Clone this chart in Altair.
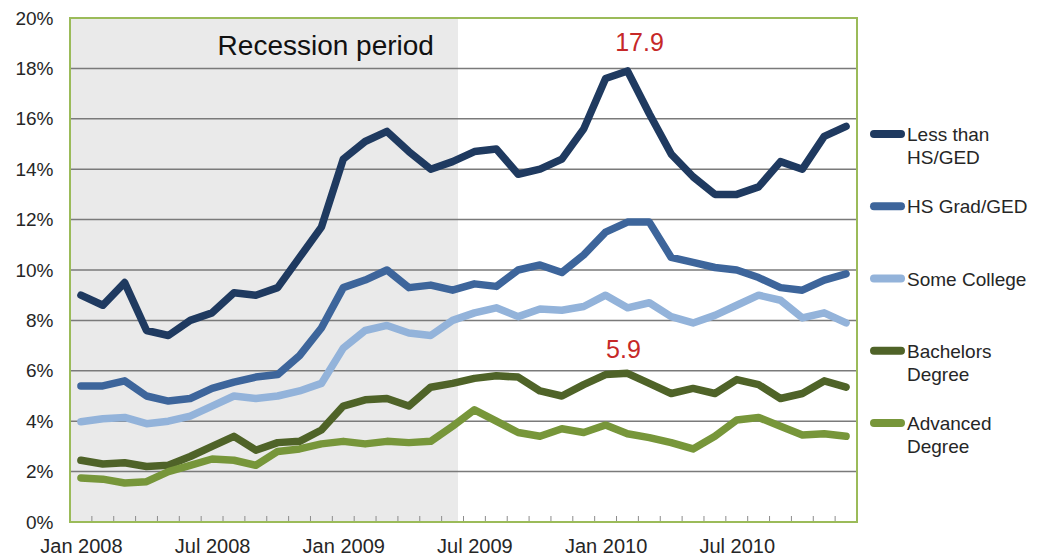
import altair as alt
import pandas as pd

# ---------------- data ----------------
months = [
    "2008-01", "2008-02", "2008-03", "2008-04", "2008-05", "2008-06",
    "2008-07", "2008-08", "2008-09", "2008-10", "2008-11", "2008-12",
    "2009-01", "2009-02", "2009-03", "2009-04", "2009-05", "2009-06",
    "2009-07", "2009-08", "2009-09", "2009-10", "2009-11", "2009-12",
    "2010-01", "2010-02", "2010-03", "2010-04", "2010-05", "2010-06",
    "2010-07", "2010-08", "2010-09", "2010-10", "2010-11", "2010-12",
]

series_names = ["Less than HS/GED", "HS Grad/GED", "Some College",
                "Bachelors Degree", "Advanced Degree"]
legend_labels = ["Less than\nHS/GED", "HS Grad/GED", "Some College",
                 "Bachelors\nDegree", "Advanced\nDegree"]
series_colors = ["#1f3a60", "#3d659b", "#93b3da", "#4f6328", "#77963a"]

less_than_hs = [9.0, 8.6, 9.5, 7.6, 7.4, 8.0, 8.3, 9.1, 9.0, 9.3, 10.5, 11.7,
                14.4, 15.1, 15.5, 14.7, 14.0, 14.3, 14.7, 14.8, 13.8, 14.0, 14.4, 15.6,
                17.6, 17.9, 16.2, 14.6, 13.7, 13.0, 13.0, 13.3, 14.3, 14.0, 15.3, 15.7]
hs_grad = [5.4, 5.4, 5.6, 5.0, 4.8, 4.9, 5.3, 5.55, 5.75, 5.85, 6.6, 7.7,
           9.3, 9.6, 10.0, 9.3, 9.4, 9.2, 9.45, 9.35, 10.0, 10.2, 9.9, 10.6,
           11.5, 11.9, 11.9, 10.5, 10.3, 10.1, 10.0, 9.7, 9.3, 9.2, 9.6, 9.85]
some_college = [3.98, 4.1, 4.15, 3.9, 4.0, 4.2, 4.6, 5.0, 4.9, 5.0, 5.2, 5.5,
                6.9, 7.6, 7.8, 7.5, 7.4, 8.0, 8.3, 8.5, 8.15, 8.45, 8.4, 8.55,
                9.0, 8.5, 8.7, 8.15, 7.9, 8.2, 8.6, 9.0, 8.8, 8.1, 8.3, 7.9]
bachelors = [2.45, 2.3, 2.35, 2.2, 2.25, 2.6, 3.0, 3.4, 2.85, 3.15, 3.2, 3.65,
             4.6, 4.85, 4.9, 4.6, 5.35, 5.5, 5.7, 5.8, 5.75, 5.2, 5.0, 5.45,
             5.85, 5.9, 5.5, 5.1, 5.3, 5.1, 5.65, 5.45, 4.9, 5.1, 5.6, 5.35]
advanced = [1.75, 1.7, 1.55, 1.6, 2.0, 2.25, 2.5, 2.45, 2.25, 2.8, 2.9, 3.1,
            3.2, 3.1, 3.2, 3.15, 3.2, 3.8, 4.45, 4.0, 3.55, 3.4, 3.7, 3.55,
            3.85, 3.5, 3.35, 3.15, 2.9, 3.4, 4.05, 4.15, 3.8, 3.45, 3.5, 3.4]

tick_months = ["2008-01", "2008-07", "2009-01", "2009-07", "2010-01", "2010-07"]
tick_labels = ["Jan 2008", "Jul 2008", "Jan 2009", "Jul 2009", "Jan 2010", "Jul 2010"]
y_ticks = [0, 2, 4, 6, 8, 10, 12, 14, 16, 18, 20]

recession_start = "2008-01"
recession_end = "2009-06"
recession_text = "Recession period"
recession_text_pos = (11.2, 18.85)   # (month index, percent)

annot_series = ["Less than HS/GED", "Bachelors Degree"]
annot_month = "2010-02"

# ---------------- tables ----------------
all_values = [less_than_hs, hs_grad, some_college, bachelors, advanced]
rows = []
for s, vals in zip(series_names, all_values):
    for i, (m, v) in enumerate(zip(months, vals)):
        rows.append({"month": m, "idx": i, "series": s, "value": v})
df = pd.DataFrame(rows)

df_rec = pd.DataFrame({
    "start": [months.index(recession_start) - 0.5],
    "end": [months.index(recession_end) + 0.25],
    "y0": [0], "y1": [20],
})
df_rec_text = pd.DataFrame({"x": [recession_text_pos[0]], "y": [recession_text_pos[1]],
                            "t": [recession_text]})
df_ticks = pd.DataFrame({"b": [i - 0.5 for i in range(1, len(months))]})
df_grid = pd.DataFrame({"g": y_ticks[1:-1]})
df_leg = pd.DataFrame({"series": series_names, "label": legend_labels})

W, H = 787, 504
tick_idx = [months.index(m) for m in tick_months]
label_expr = "{" + ", ".join(f"'{i}': '{l}'" for i, l in zip(tick_idx, tick_labels)) + "}[datum.value]"

FONT = "Liberation Sans"
TXT = "#262626"

x_scale = alt.Scale(domain=[-0.5, len(months) - 0.5], nice=False, zero=False)
x_enc = alt.X("idx:Q", scale=x_scale,
              axis=alt.Axis(values=tick_idx, labelExpr=label_expr, title=None,
                            ticks=False, domain=False, grid=False,
                            labelFontSize=20, labelColor=TXT, labelPadding=14,
                            labelFont=FONT))
y_scale = alt.Scale(domain=[0, 20], nice=False)
y_enc = alt.Y("value:Q", scale=y_scale,
              axis=alt.Axis(values=y_ticks, labelExpr="datum.value + '%'", title=None,
                            ticks=False, domain=False, grid=False,
                            labelFontSize=19, labelColor=TXT, labelPadding=17,
                            labelFont=FONT))
color_enc = alt.Color("series:N", scale=alt.Scale(domain=series_names, range=series_colors),
                      legend=None)

shade = alt.Chart(df_rec).mark_rect(fill="#eaeaea").encode(
    x=alt.X("start:Q", scale=x_scale),
    x2="end:Q",
    y=alt.Y("y0:Q", scale=y_scale),
    y2="y1:Q",
)

axes_base = alt.Chart(df).mark_line(opacity=0).encode(x=x_enc, y=y_enc, detail="series:N")

grid = alt.Chart(df_grid).mark_rule(color="#7a7a7a", strokeWidth=1.5).encode(
    y="g:Q", x=alt.value(0), x2=alt.value(W))

rec_text = alt.Chart(df_rec_text).mark_text(fontSize=28, font=FONT, color="#111111",
                                            baseline="middle").encode(
    x="x:Q", y="y:Q", text="t:N")

lines = alt.Chart(df).mark_line(strokeWidth=7.5, strokeJoin="round", strokeCap="round").encode(
    x="idx:Q", y="value:Q", color=color_enc, order=alt.Order("idx:Q"))

ticks = alt.Chart(df_ticks).mark_rule(color="#8c8c8c", strokeWidth=1).encode(
    x="b:Q", y=alt.value(H - 6), y2=alt.value(H))

frame = alt.Chart(df_rec).mark_rect(filled=False, stroke="#9bbb59", strokeWidth=2).encode(
    x=alt.value(0), x2=alt.value(W), y=alt.value(0), y2=alt.value(H))

ann1 = alt.Chart(df).transform_filter(
    (alt.datum.series == annot_series[0]) & (alt.datum.month == annot_month)
).mark_text(color="#c62828", fontSize=25, font=FONT, dx=12, dy=-28).encode(
    x="idx:Q", y="value:Q", text=alt.Text("value:Q", format=".1f"))
ann2 = alt.Chart(df).transform_filter(
    (alt.datum.series == annot_series[1]) & (alt.datum.month == annot_month)
).mark_text(color="#c62828", fontSize=25, font=FONT, dx=-4, dy=-23).encode(
    x="idx:Q", y="value:Q", text=alt.Text("value:Q", format=".1f"))

main = alt.layer(shade, axes_base, grid, rec_text, lines, ticks, frame, ann1, ann2)

leg_y = alt.Y("series:N", scale=alt.Scale(type="point", domain=series_names,
                                           range=[116, 405], padding=0), axis=None)
leg_sym = alt.Chart(df_leg).mark_rule(strokeWidth=8, strokeCap="round").encode(
    x=alt.value(804), x2=alt.value(831), y=leg_y, color=color_enc)
leg_txt = alt.Chart(df_leg).mark_text(align="left", baseline="top", dy=-8, fontSize=19,
                                      font=FONT, color=TXT, lineBreak="\n",
                                      lineHeight=23).encode(
    x=alt.value(837), y=leg_y, text="label:N")
legend = alt.layer(leg_sym, leg_txt)

chart = alt.layer(main, legend).resolve_scale(y="independent").properties(
    width=W, height=H,
    autosize="none",
    padding={"left": 62, "top": 10, "right": 177, "bottom": 34},
).configure_view(strokeWidth=0)

chart.save("out.html", embed_options={"renderer": "svg", "actions": False})
